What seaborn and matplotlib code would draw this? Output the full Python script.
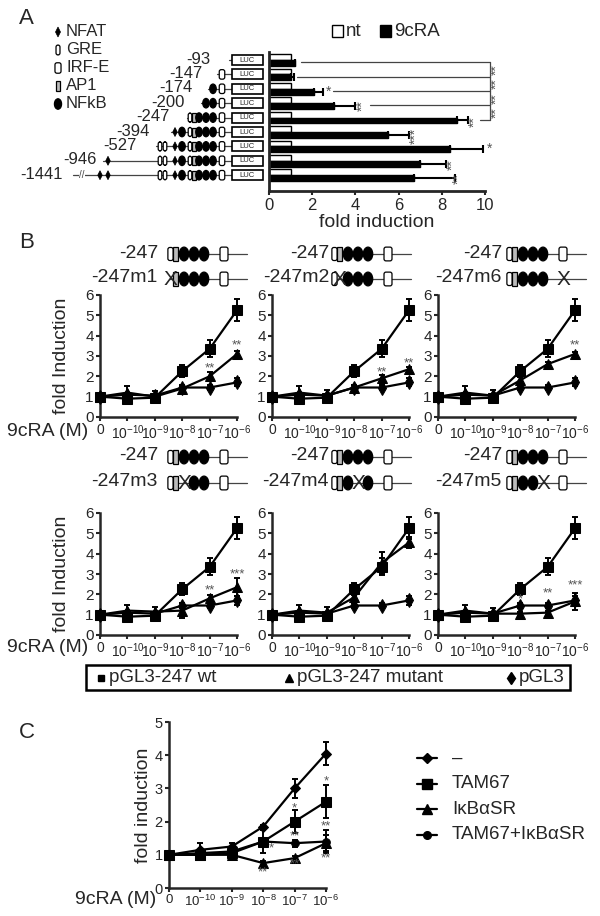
import numpy as np
import pandas as pd
import matplotlib
matplotlib.use("Agg")
import matplotlib.pyplot as plt
import seaborn as sns
from matplotlib.patches import Ellipse, Rectangle, Polygon, FancyBboxPatch

# =========================
# Data
# =========================

# panel A: deletion constructs
constructs = ["-93", "-147", "-174", "-200", "-247", "-394", "-527", "-946", "-1441"]
nt_fold = [1.0, 1.0, 1.0, 1.0, 1.0, 1.0, 1.0, 1.0, 1.0]
cra_fold = [1.2, 1.0, 2.1, 3.0, 8.7, 5.5, 8.4, 7.0, 6.7]
cra_err = [0.0, 0.15, 0.4, 1.0, 0.5, 1.0, 1.5, 1.2, 1.9]

# panel B: dose response, wt / mutant / empty vector
conc_labels = ["0", "$10^{-10}$", "$10^{-9}$", "$10^{-8}$", "$10^{-7}$", "$10^{-6}$"]
wt_fold = [1.0, 0.9, 0.95, 2.25, 3.35, 5.25]
wt_err = [0.1, 0.15, 0.15, 0.3, 0.42, 0.55]
pgl3_fold = [1.0, 1.1, 1.05, 1.45, 1.45, 1.7]
pgl3_err = [0.05, 0.1, 0.1, 0.1, 0.1, 0.2]

mutant_names = ["-247m1", "-247m2", "-247m6", "-247m3", "-247m4", "-247m5"]
m1_fold = [1.0, 1.2, 1.0, 1.4, 2.0, 3.1]
m1_err = [0.05, 0.3, 0.3, 0.1, 0.2, 0.15]
m2_fold = [1.0, 1.2, 1.05, 1.45, 1.9, 2.35]
m2_err = [0.05, 0.3, 0.3, 0.1, 0.15, 0.1]
m6_fold = [1.0, 1.2, 1.05, 1.8, 2.6, 3.1]
m6_err = [0.05, 0.3, 0.3, 0.15, 0.1, 0.1]
m3_fold = [1.0, 1.2, 1.15, 1.2, 1.8, 2.35]
m3_err = [0.05, 0.3, 0.25, 0.35, 0.15, 0.45]
m4_fold = [1.0, 1.2, 1.1, 1.85, 3.55, 4.55]
m4_err = [0.05, 0.3, 0.3, 0.3, 0.55, 0.25]
m5_fold = [1.0, 1.2, 1.05, 1.05, 1.1, 1.65]
m5_err = [0.05, 0.3, 0.3, 0.1, 0.1, 0.4]

# significance marks per subplot: (concentration index, y, text)
b_stars = [
    [(4, 2.4, "**"), (5, 3.5, "**")],
    [(4, 2.2, "**"), (5, 2.65, "**")],
    [(5, 3.5, "**")],
    [(4, 2.2, "**"), (5, 3.0, "***")],
    [],
    [(3, 1.75, "*"), (4, 2.05, "**"), (5, 2.45, "***")],
]

# panel C: dominant negative inhibitors
c_names = ["–", "TAM67", "IκBαSR", "TAM67+IκBαSR"]
c_none = [1.0, 1.15, 1.25, 1.85, 3.0, 4.05]
c_none_err = [0.05, 0.2, 0.1, 0.05, 0.28, 0.35]
c_tam = [1.0, 1.0, 1.05, 1.4, 2.0, 2.6]
c_tam_err = [0.05, 0.15, 0.1, 0.35, 0.35, 0.5]
c_ikb = [1.0, 1.0, 1.0, 0.75, 0.9, 1.35]
c_ikb_err = [0.05, 0.1, 0.05, 0.05, 0.05, 0.25]
c_both = [1.0, 1.05, 1.1, 1.4, 1.35, 1.4]
c_both_err = [0.05, 0.1, 0.1, 0.1, 0.1, 0.35]
c_stars = [(3.25, 1.2, "*"), (3, 0.48, "**"), (4, 2.4, "*"), (4, 1.55, "**"),
           (4, 0.7, "**"), (5, 3.2, "*"), (5, 1.85, "**"), (5, 0.9, "**")]

# =========================
# Figure setup
# =========================

sns.set_style("ticks")
plt.rcParams["font.family"] = ["Liberation Sans", "DejaVu Sans"]
plt.rcParams["mathtext.default"] = "regular"

W, H = 600, 916
fig = plt.figure(figsize=(W / 100, H / 100), dpi=100)


def px_axes(x0, y0, x1, y1):
    ax = fig.add_axes([x0 / W, 1 - y1 / H, (x1 - x0) / W, (y1 - y0) / H])
    ax.set_facecolor("none")
    return ax


# overlay in pixel coordinates for labels and promoter schematics
ov = fig.add_axes([0, 0, 1, 1], zorder=5)
ov.set_xlim(0, W)
ov.set_ylim(H, 0)
ov.axis("off")
ov.patch.set_alpha(0)

STAR = "#555555"


def oval(x, y, w, h, filled=True):
    ov.add_patch(Ellipse((x, y), w, h, fc="black" if filled else "white", ec="black", lw=0.9, zorder=3))


def box(x, y, w, h, fc="white"):
    ov.add_patch(Rectangle((x - w / 2, y - h / 2), w, h, fc=fc, ec="black", lw=0.9, zorder=3))


def rbox(x, y, w, h):
    ov.add_patch(FancyBboxPatch((x - w / 2, y - h / 2), w, h, boxstyle="round,pad=0,rounding_size=2",
                                fc="white", ec="black", lw=0.9, zorder=3))


def diamond(x, y, w, h):
    ov.add_patch(Polygon([[x, y - h / 2], [x + w / 2, y], [x, y + h / 2], [x - w / 2, y]],
                         closed=True, fc="black", ec="black", lw=0.5, zorder=3))


def element(kind, x, y, s=1.0):
    if kind == "nfat":
        diamond(x, y, 4.5 * s, 9 * s)
    elif kind == "gre":
        rbox(x, y, 3.6 * s, 9 * s)
    elif kind == "irf":
        rbox(x, y, 5.5 * s, 9.5 * s)
    elif kind == "ap1":
        box(x, y, 3.6 * s, 9 * s, fc="#bbbbbb")
    elif kind == "nfkb":
        oval(x, y, 6.5 * s, 9.5 * s)


# =========================
# Panel A
# =========================

ov.text(19, 19, "A", fontsize=16, ha="left", va="center")

legend_items = [("nfat", "NFAT"), ("gre", "GRE"), ("irf", "IRF-E"), ("ap1", "AP1"), ("nfkb", "NFkB")]
for k, (kind, name) in enumerate(legend_items):
    yy = 32 + 18 * k
    element(kind, 58, yy, 1.1)
    ov.text(66, yy, name, fontsize=12, va="center")

ov.add_patch(Rectangle((332, 25), 11, 12, fc="white", ec="black", lw=1))
ov.text(346, 31, "nt", fontsize=13.5, va="center")
ov.add_patch(Rectangle((380, 25), 11, 12, fc="black", ec="black", lw=1))
ov.text(394, 31, "9cRA", fontsize=13.5, va="center")

full_layout = [("nfat", 100), ("nfat", 108), ("gre", 160), ("gre", 165), ("nfat", 175), ("nfkb", 182),
               ("gre", 190), ("ap1", 194), ("nfkb", 199), ("nfkb", 206), ("nfkb", 213), ("irf", 222)]
line_start = [229, 217, 208, 201, 187, 171, 156, 103, 73]
label_right = [210, 202, 193, 185, 170, 150, 137, 97, 63]

row0, row_step = 60, 14.4
for i, name in enumerate(constructs):
    yy = row0 + row_step * i
    ov.plot([line_start[i], 232], [yy, yy], color="#444444", lw=0.9, zorder=2)
    for kind, xx in full_layout:
        if xx >= line_start[i]:
            element(kind, xx, yy)
    ov.add_patch(Rectangle((232, yy - 5), 31, 10, fc="white", ec="black", lw=1.2, zorder=3))
    ov.text(247.5, yy, "LUC", fontsize=5.5, ha="center", va="center", zorder=4)
    ov.text(label_right[i], yy - 1, name, fontsize=12, ha="right", va="center")
    if name == "-1441":
        ov.text(82, yy, "//", fontsize=7, ha="center", va="center", color="#444444",
                bbox=dict(fc="white", ec="none", pad=0))

axA = px_axes(269, 52, 485, 191)
df_a = pd.DataFrame({
    "construct": constructs * 2,
    "fold": nt_fold + cra_fold,
    "treatment": ["nt"] * len(constructs) + ["9cRA"] * len(constructs),
})
sns.barplot(data=df_a, y="construct", x="fold", hue="treatment", order=constructs,
            hue_order=["nt", "9cRA"], palette=["white", "black"], edgecolor="black",
            linewidth=1, orient="h", errorbar=None, legend=False, width=0.8, ax=axA)
ypos = np.arange(len(constructs)) + 0.2
axA.errorbar(cra_fold, ypos, xerr=[np.zeros(len(cra_fold)), cra_err], fmt="none",
             ecolor="black", elinewidth=1.5, capsize=3, capthick=1.5)
axA.set_xlim(0, 10)
axA.set_ylim(8 + (191 - 175.2) / row_step, -(row0 - 52) / row_step)
axA.set_xticks([0, 2, 4, 6, 8, 10])
axA.set_yticks([])
axA.set_xlabel("fold induction", fontsize=14, labelpad=1)
axA.set_ylabel("")
axA.tick_params(axis="x", labelsize=12, length=3, width=1.5, pad=2)
sns.despine(ax=axA)
for sp in ["left", "bottom"]:
    axA.spines[sp].set_linewidth(2)

# comparison bracket against -247
br_x = 10.25
br_start = [1.5, 1.3, 2.97, 4.67]
for i, x0 in enumerate(br_start):
    axA.plot([x0, br_x], [i + 0.15, i + 0.15], color="#444444", lw=0.9, clip_on=False)
    axA.text(br_x + 0.3, i + 0.65, "**", rotation=90, fontsize=10, ha="center", va="center", color=STAR)
axA.plot([9.75, br_x], [4.15, 4.15], color="#444444", lw=0.9, clip_on=False)
axA.plot([br_x, br_x], [0.15, 4.15], color="#444444", lw=0.9, clip_on=False)

a_stars = [(2.75, 2.2, "*", 0), (4.35, 3.2, "**", 90), (9.5, 4.25, "**", 90), (6.8, 5.25, "***", 90),
           (10.2, 6.2, "*", 0), (8.5, 7.25, "**", 90), (8.8, 8.25, "**", 90)]
for x, y, s, rot in a_stars:
    axA.text(x, y, s, rotation=rot, fontsize=10, ha="center", va="center", color=STAR, clip_on=False)

# =========================
# Panel B
# =========================

ov.text(19, 242, "B", fontsize=16, ha="left", va="center")

diagram_x0 = [169, 333, 508]
diagram_lab = [158, 329, 502]
header_y = [(253, 278), (456, 482)]
mutation_target = ["r1", "r2", "irf", "k1", "k2", "k3"]


def draw_247(x0, y, target=None):
    ov.plot([x0, x0 + 78], [y, y], color="#444444", lw=0.9, zorder=2)
    parts = [("r1", "gre", x0 + 1.5), ("r2", "ap1", x0 + 6.5), ("k1", "nfkb", x0 + 15),
             ("k2", "nfkb", x0 + 25), ("k3", "nfkb", x0 + 35), ("irf", "irf", x0 + 55)]
    for key, kind, xx in parts:
        if key == target:
            ov.text(xx, y + 0.5, "X", fontsize=15, ha="center", va="center", zorder=4)
        else:
            element(kind, xx, y, 1.45)


wt_series = (wt_fold, wt_err)
pgl3_series = (pgl3_fold, pgl3_err)
mut_series = [(m1_fold, m1_err), (m2_fold, m2_err), (m6_fold, m6_err),
              (m3_fold, m3_err), (m4_fold, m4_err), (m5_fold, m5_err)]

positions = np.arange(len(conc_labels))
col_left = [100, 272, 438]
row_axes = [(295, 417), (513, 635)]


def style_dose_axes(ax, ymax, labelsize):
    ax.set_xlim(0, 5)
    ax.set_ylim(0, ymax)
    ax.set_xticks(positions)
    ax.set_xticklabels(conc_labels)
    ax.set_yticks(range(ymax + 1))
    ax.set_xlabel("")
    ax.set_ylabel("")
    ax.tick_params(labelsize=labelsize, length=3, width=1.5, pad=1.5)
    ax.tick_params(axis="y", labelsize=labelsize + 1)
    sns.despine(ax=ax)
    for sp in ["left", "bottom"]:
        ax.spines[sp].set_linewidth(1.8)


def draw_series(ax, vals, errs, marker, ms):
    sns.lineplot(x=positions, y=vals, marker=marker, markersize=ms, color="black", lw=1.6,
                 markeredgecolor="black", errorbar=None, clip_on=False, zorder=3, ax=ax)
    ax.errorbar(positions, vals, yerr=errs, fmt="none", ecolor="black", elinewidth=1.4,
                capsize=2.5, capthick=1.4, clip_on=False, zorder=3)


for k in range(6):
    r, c = divmod(k, 3)
    top, bottom = row_axes[r]
    ax = px_axes(col_left[c], top, col_left[c] + 137, bottom)
    draw_series(ax, pgl3_series[0], pgl3_series[1], "d", 7)
    draw_series(ax, mut_series[k][0], mut_series[k][1], "^", 7)
    draw_series(ax, wt_series[0], wt_series[1], "s", 6.5)
    for xi, yv, s in b_stars[k]:
        ax.text(xi, yv, s, fontsize=9.5, ha="center", va="center", color=STAR, clip_on=False)
    style_dose_axes(ax, 6, 10)

    hy0, hy1 = header_y[r]
    ov.text(diagram_lab[c], hy0, "-247", fontsize=14, ha="right", va="center")
    ov.text(diagram_lab[c], hy1, mutant_names[k], fontsize=14, ha="right", va="center")
    draw_247(diagram_x0[c], hy0 + 1)
    draw_247(diagram_x0[c], hy1 + 1, mutation_target[k])

for (top, bottom), xl_y in zip(row_axes, [432, 648]):
    ov.text(62, (top + bottom) / 2, "fold Induction", rotation=90, fontsize=14, ha="center", va="center")
    ov.text(88, xl_y, "9cRA (M)", fontsize=14, ha="right", va="center")

# legend box for panel B
ov.add_patch(Rectangle((86, 665), 484, 25, fill=False, ec="black", lw=1.8))
ov.plot([101], [678], marker="s", ms=5, color="black")
ov.text(109, 678, "pGL3-247 wt", fontsize=13.5, va="center")
ov.plot([289], [678], marker="^", ms=6, color="black")
ov.text(297, 678, "pGL3-247 mutant", fontsize=13.5, va="center")
ov.plot([511], [678], marker="d", ms=6, color="black")
ov.text(519, 678, "pGL3", fontsize=13.5, va="center")

# =========================
# Panel C
# =========================

ov.text(19, 733, "C", fontsize=16, ha="left", va="center")

axC = px_axes(169, 722, 326, 888)
c_series = [(c_both, c_both_err, "o", 5.5), (c_ikb, c_ikb_err, "^", 7),
            (c_tam, c_tam_err, "s", 7), (c_none, c_none_err, "D", 5)]
for vals, errs, m, ms in c_series:
    draw_series(axC, vals, errs, m, ms)
for xi, yv, s in c_stars:
    axC.text(xi, yv, s, fontsize=9.5, ha="center", va="center", color=STAR, clip_on=False)
style_dose_axes(axC, 5, 9.5)

ov.text(143, 805, "fold induction", rotation=90, fontsize=14, ha="center", va="center")
ov.text(156, 899, "9cRA (M)", fontsize=14, ha="right", va="center")

c_markers = [("D", 5), ("s", 7), ("^", 7), ("o", 5.5)]
for k, name in enumerate(c_names):
    yy = 758 + 25.5 * k
    m, ms = c_markers[k]
    ov.plot([417, 437], [yy, yy], color="black", lw=1.6, marker=None)
    ov.plot([427], [yy], marker=m, ms=ms, color="black")
    ov.text(452, yy, name, fontsize=13.5, va="center")

fig.savefig("out.png", dpi=100)
